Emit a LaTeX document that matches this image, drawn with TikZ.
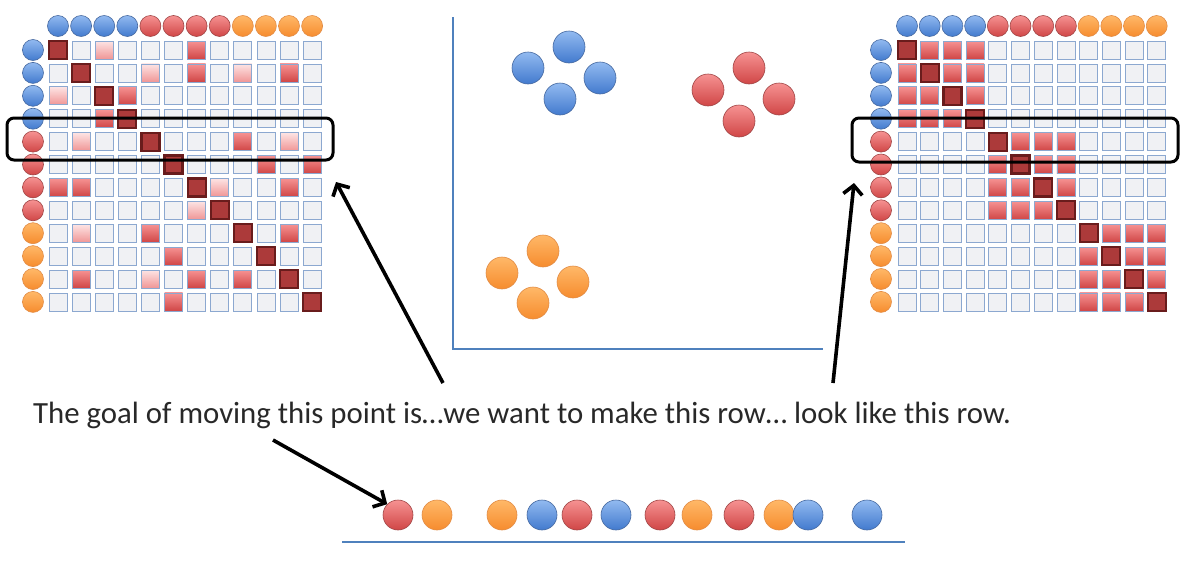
\documentclass[tikz,border=0pt]{standalone}
\usepackage{fontspec}
\setmainfont{Carlito}
\usetikzlibrary{arrows.meta}
\definecolor{axisblue}{RGB}{79,129,189}
\definecolor{bluetop}{RGB}{146,186,240}
\definecolor{bluebot}{RGB}{66,122,206}
\definecolor{blueline}{RGB}{70,105,160}
\definecolor{redtop}{RGB}{246,146,146}
\definecolor{redbot}{RGB}{208,70,70}
\definecolor{redline}{RGB}{160,70,70}
\definecolor{orangetop}{RGB}{255,184,104}
\definecolor{orangebot}{RGB}{246,140,46}
\definecolor{orangeline}{RGB}{225,140,70}
\definecolor{cellgray}{RGB}{240,241,244}
\definecolor{cellline}{RGB}{140,168,208}
\definecolor{pinktop}{RGB}{253,228,228}
\definecolor{pinkbot}{RGB}{240,150,150}
\definecolor{darkred}{RGB}{172,58,58}
\definecolor{darkline}{RGB}{105,28,28}
\definecolor{textgray}{RGB}{40,40,40}
\tikzset{
  ball/.style={circle, inner sep=0pt, minimum size=21pt, line width=0.6pt},
  ballb/.style={ball, draw=blueline, top color=bluetop, bottom color=bluebot},
  ballr/.style={ball, draw=redline, top color=redtop, bottom color=redbot},
  ballo/.style={ball, draw=orangeline, top color=orangetop, bottom color=orangebot},
  cell/.style={rectangle, inner sep=0pt, minimum size=18pt, line width=0.8pt},
  cell e/.style={cell, draw=cellline, fill=cellgray},
  cell l/.style={cell, draw=cellline, top color=pinktop, bottom color=pinkbot},
  cell m/.style={cell, draw=cellline, top color=redtop, bottom color=redbot},
  cell d/.style={cell, draw=darkline, fill=darkred, line width=2.2pt},
  rowbox/.style={draw=black, line width=3pt, rounded corners=7pt, inner sep=0pt},
  axis/.style={draw=axisblue, line width=2.6pt},
  bigarrow/.style={->, line width=3.6pt, black}
}
\begin{document}
\begin{tikzpicture}[x=1pt, y=-1pt, >={Straight Barb[length=9pt, width=19pt]}]
  \useasboundingbox (0,0) rectangle (1188,565);
  % linke Matrix
  \foreach \col [count=\c] in {b,b,b,b,r,r,r,r,o,o,o,o} {
    \node[ball\col] (LT\c) at ({58+(\c-1)*23.1},26) {};
    \node[ball\col] (LS\c) at (33,{50+(\c-1)*22.9}) {};
  }
  \foreach \row [count=\r] in {{d,e,l,e,e,e,m,e,e,e,e,e},{e,d,e,e,l,e,m,e,l,e,m,e},
      {l,e,d,m,e,e,e,e,e,e,e,e},{e,e,m,d,e,e,e,e,e,e,e,e},{e,l,e,e,d,e,e,e,m,e,l,e},
      {e,e,e,e,e,d,e,e,e,m,e,m},{m,m,e,e,e,e,d,l,e,e,m,e},{e,e,e,e,e,e,l,d,e,e,e,e},
      {e,l,e,e,m,e,e,e,d,e,m,e},{e,e,e,e,e,m,e,e,e,d,e,e},{e,m,e,e,l,e,m,e,m,e,d,e},
      {e,e,e,e,e,m,e,e,e,e,e,d}}
    \foreach \t [count=\c] in \row
      \node[cell \t] (L-\r-\c) at ({58+(\c-1)*23.1},{50+(\r-1)*22.9}) {};
  \node[rowbox, minimum width=326pt, minimum height=42pt] (leftrow) at (170,139) {};
  % rechte Matrix
  \foreach \col [count=\c] in {b,b,b,b,r,r,r,r,o,o,o,o} {
    \node[ball\col] (RT\c) at ({907+(\c-1)*22.7},26) {};
    \node[ball\col] (RS\c) at (881,{50+(\c-1)*22.9}) {};
  }
  \foreach \r in {1,...,12}
    \foreach \c in {1,...,12} {
      \pgfmathtruncatemacro\br{(\r-1)/4}
      \pgfmathtruncatemacro\bc{(\c-1)/4}
      \def\t{e}
      \ifnum\br=\bc \def\t{m}\fi
      \ifnum\r=\c \def\t{d}\fi
      \node[cell \t] (R-\r-\c) at ({907+(\c-1)*22.7},{50+(\r-1)*22.9}) {};
    }
  \node[rowbox, minimum width=326pt, minimum height=44pt] (rightrow) at (1015,140) {};
  % Punktwolke
  \draw[axis] (453,17) -- (453,349) -- (823,349);
  \foreach \n/\x/\y in {1/528/68,2/569/47,3/600/78,4/560/99}
    \node[ballb, minimum size=32pt] (cb\n) at (\x,\y) {};
  \foreach \n/\x/\y in {1/708/90,2/749/68,3/779/99,4/739/121}
    \node[ballr, minimum size=32pt] (cr\n) at (\x,\y) {};
  \foreach \n/\x/\y in {1/502/273,2/543/251,3/573/282,4/533/303}
    \node[ballo, minimum size=32pt] (co\n) at (\x,\y) {};
  % Text
  \node[anchor=west, inner sep=0pt, text=textgray, font=\fontsize{30.8}{36}\selectfont] (goal) at (33,415)
    {The goal of moving this point is…we want to make this row… look like this row.};
  % eindimensionale Reihe
  \draw[axis] (342,542) -- (905,542);
  \foreach \col/\x [count=\n] in {r/398,o/437,o/502,b/542,r/577,b/616,r/660,o/697,r/739,o/779,b/808,b/867}
    \node[ball\col, minimum size=30pt] (b\n) at (\x,515) {};
  % Pfeile
  \coordinate (lefttail) at (443,383);
  \coordinate (lefttip) at (336,182);
  \coordinate (righttail) at (833,383);
  \coordinate (righttip) at (854,183);
  \coordinate (pointtail) at (273,440);
  \draw[bigarrow] (lefttail) -- (lefttip);
  \draw[bigarrow] (righttail) -- (righttip);
  \draw[bigarrow] (pointtail) -- (b1.north west);
\end{tikzpicture}
\end{document}
